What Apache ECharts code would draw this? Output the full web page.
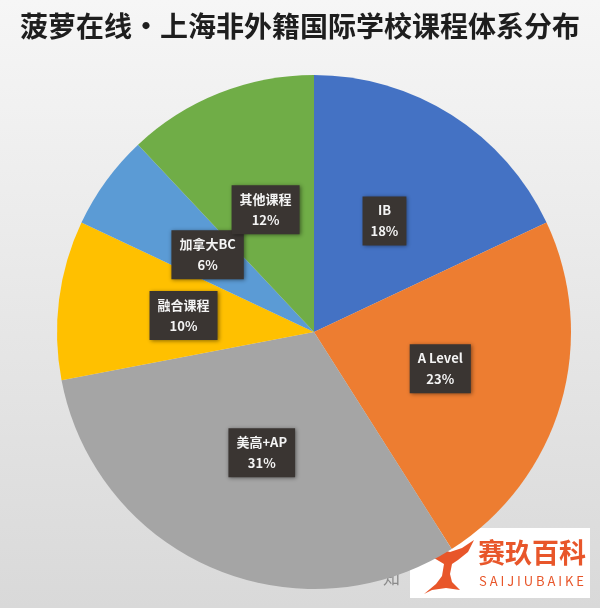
<!DOCTYPE html>
<html>
<head>
<meta charset="utf-8">
<script src="https://cdn.jsdelivr.net/npm/echarts@6/dist/echarts.min.js"></script>
<style>
html,body{margin:0;padding:0;}
#main{width:600px;height:608px;}
</style>
</head>
<body>
<div id="main"></div>
<script>
const titleText = '菠萝在线·上海非外籍国际学校课程体系分布';
const categories = ['IB', 'A Level', '美高+AP', '融合课程', '加拿大BC', '其他课程'];
const values = [18, 23, 31, 10, 6, 12];
const colors = ['#4472C4', '#ED7D31', '#A5A5A5', '#FFC000', '#5B9BD5', '#70AD47'];

const chart = echarts.init(document.getElementById('main'), null, {renderer: 'canvas'});
const font = '"Noto Sans CJK SC", "Noto Sans", sans-serif';

const option = {
  backgroundColor: {
    type: 'linear', x: 0, y: 0, x2: 0, y2: 1,
    colorStops: [{offset: 0, color: '#f6f6f6'}, {offset: 1, color: '#d9d9d9'}]
  },
  title: {
    text: titleText,
    left: 'center',
    top: 7,
    textStyle: {fontFamily: font, fontSize: 28, fontWeight: 'bold', color: '#1e1e1e'}
  },
  series: [{
    type: 'pie',
    center: [314, 332],
    radius: [0, 257],
    startAngle: 90,
    clockwise: true,
    animation: false,
    silent: true,
    avoidLabelOverlap: false,
    labelLayout: {hideOverlap: false},
    data: categories.map((c, i) => ({name: c, value: values[i], itemStyle: {color: colors[i]}})),
    label: {
      show: true,
      position: 'inside',
      formatter: '{b}\n{d}%',
      fontFamily: font,
      fontSize: 13,
      fontWeight: 'bold',
      color: '#f4f4f4',
      lineHeight: 21,
      backgroundColor: '#3a3532',
      padding: [4, 8, 3, 8],
      shadowColor: 'rgba(0,0,0,0.45)',
      shadowBlur: 4,
      shadowOffsetX: 1,
      shadowOffsetY: 1
    },
    labelLine: {show: false}
  }],
  graphic: {
    elements: [
      {type: 'text', x: 383, y: 569, style: {text: '知', font: '17px ' + font, fill: '#8a8a8a'}},
      {type: 'rect', shape: {x: 410, y: 528, width: 180, height: 70}, style: {fill: '#ffffff'}},
      {type: 'text', x: 478, y: 539, style: {text: '赛玖百科', font: 'bold 27px ' + font, fill: '#e8562a'}},
      {type: 'text', x: 479, y: 575, style: {text: 'S A I J I U B A I K E', font: '13px ' + font, fill: '#e8562a'}},
      {type: 'polygon', shape: {points: [[424,540],[436,548],[450,552],[462,548],[474,540],[468,552],[458,560],[452,564],[450,574],[452,582],[460,590],[446,588],[432,590],[424,594],[436,584],[442,576],[444,564],[434,558]]}, style: {fill: '#e8562a'}}
    ]
  }
};
chart.setOption(option);
</script>
</body>
</html>
